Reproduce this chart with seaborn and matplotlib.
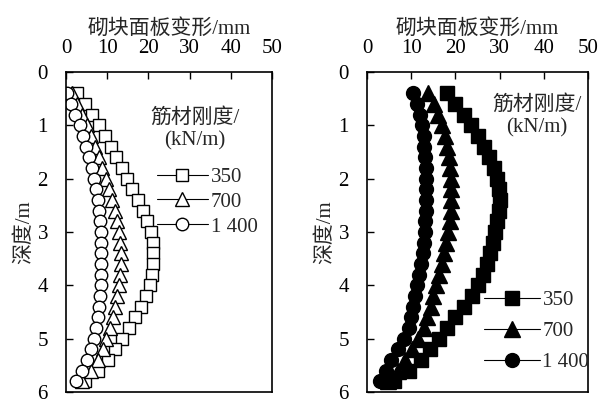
import numpy as np
import pandas as pd
import seaborn as sns
import matplotlib.pyplot as plt

# depth of each measuring point (m)
depth = [0.4, 0.6, 0.8, 1.0, 1.2, 1.4, 1.6, 1.8, 2.0, 2.2, 2.4, 2.6, 2.8, 3.0,
         3.2, 3.4, 3.6, 3.8, 4.0, 4.2, 4.4, 4.6, 4.8, 5.0, 5.2, 5.4, 5.6, 5.8]

stiffness = ["350", "700", "1 400"]

# left panel - block panel deformation (mm)
left_350 = [2.6, 4.6, 6.4, 8.0, 9.5, 10.9, 12.2, 13.5, 14.8, 16.1, 17.4, 18.6, 19.7, 20.6,
            21.0, 21.2, 21.2, 20.9, 20.3, 19.5, 18.1, 16.8, 15.3, 13.7, 12.0, 10.2, 7.8, 4.7]
left_700 = [1.4, 2.6, 3.8, 5.0, 6.0, 7.0, 7.9, 8.8, 9.6, 10.4, 11.1, 11.8, 12.4, 12.8,
            13.1, 13.3, 13.3, 13.1, 12.8, 12.4, 11.9, 11.3, 10.6, 9.8, 9.0, 7.8, 6.0, 3.8]
left_1400 = [0.2, 1.3, 2.3, 3.3, 4.1, 4.9, 5.6, 6.2, 6.8, 7.3, 7.7, 8.0, 8.3, 8.4,
             8.5, 8.5, 8.5, 8.5, 8.4, 8.2, 8.0, 7.7, 7.3, 6.8, 6.1, 5.2, 3.9, 2.4]

# right panel
right_350 = [18.1, 20.0, 21.9, 23.6, 25.1, 26.5, 27.7, 28.7, 29.4, 29.9, 30.0, 29.9, 29.5, 28.9,
             28.4, 27.8, 27.1, 26.2, 25.1, 23.7, 22.0, 20.0, 18.0, 16.2, 14.3, 12.3, 9.5, 6.0]
right_700 = [13.9, 15.1, 16.1, 16.9, 17.6, 18.1, 18.5, 18.8, 18.9, 19.0, 19.0, 18.9, 18.7, 18.4,
             17.9, 17.4, 16.9, 16.2, 15.6, 15.0, 14.4, 13.6, 12.8, 11.6, 10.2, 8.7, 7.0, 4.8]
right_1400 = [10.5, 11.3, 12.0, 12.4, 12.8, 13.0, 13.2, 13.3, 13.4, 13.4, 13.4, 13.3, 13.2, 13.1,
              12.9, 12.6, 12.2, 11.7, 11.3, 10.9, 10.5, 10.0, 9.4, 8.3, 7.0, 5.5, 4.2, 3.0]

xticks = [0, 10, 20, 30, 40, 50]
yticks = [0, 1, 2, 3, 4, 5, 6]

sns.set_style("ticks")
plt.rcParams['font.family'] = ['Liberation Serif', 'Noto Sans CJK SC']
plt.rcParams['font.size'] = 15
plt.rcParams['axes.unicode_minus'] = False

FS = 15


def make_df(series):
    rows = []
    for name, vals in zip(stiffness, series):
        for d, v in zip(depth, vals):
            rows.append({"depth": d, "deform": v, "stiffness": name})
    return pd.DataFrame(rows)


fig = plt.figure(figsize=(6.08, 4.03), dpi=100)
ax1 = fig.add_axes([66 / 608, 1 - 392 / 403, 206 / 608, 320 / 403])
ax2 = fig.add_axes([367 / 608, 1 - 392 / 403, 221 / 608, 320 / 403])

marker_list = ["s", "^", "o"]
panels = [
    (ax1, [left_350, left_700, left_1400], "white", [8.5, 9.5, 9.0]),
    (ax2, [right_350, right_700, right_1400], "black", [10.0, 11.0, 10.0]),
]

for ax, series, face, sizes in panels:
    df = make_df(series)
    for name, mk, ms in zip(stiffness, marker_list, sizes):
        sub = df[df["stiffness"] == name]
        sns.lineplot(data=sub, x="deform", y="depth", ax=ax, orient="y", sort=False,
                     color="black", lw=0.8, marker=mk, markersize=ms,
                     markerfacecolor=face, markeredgecolor="black", markeredgewidth=1.0,
                     label=name, legend=False)

    ax.set_xlim(0, 50)
    ax.set_ylim(6, 0)
    ax.set_xticks(xticks)
    ax.set_yticks(yticks)
    ax.xaxis.tick_top()
    ax.xaxis.set_label_position("top")
    ax.tick_params(direction="in", length=5, width=1, colors="black", labelsize=FS,
                   top=True, bottom=False, left=True, right=False)
    ax.tick_params(axis="x", pad=10)
    ax.tick_params(axis="y", pad=13)
    ax.set_xlabel("砌块面板变形/mm", fontsize=FS, labelpad=4)
    ax.set_ylabel("深度/m", fontsize=FS, labelpad=2)
    for sp in ax.spines.values():
        sp.set_visible(True)
        sp.set_color("black")
        sp.set_linewidth(1.2)

# legends
ax1.text(0.626, 0.82, "筋材刚度/\n(kN/m)", transform=ax1.transAxes, ha="center", va="center",
         fontsize=FS, linespacing=1.25)
ax1.legend(handles=ax1.lines[:3], labels=stiffness, loc="center left",
           bbox_to_anchor=(0.44, 0.594), frameon=False, fontsize=FS, handlelength=2.45,
           handletextpad=0.15, labelspacing=0.25, borderpad=0.0, borderaxespad=0.0)

ax2.text(0.77, 0.8625, "筋材刚度/\n(kN/m)", transform=ax2.transAxes, ha="center", va="center",
         fontsize=FS, linespacing=1.25)
ax2.legend(handles=ax2.lines[:3], labels=stiffness, loc="center left",
           bbox_to_anchor=(0.53, 0.19), frameon=False, fontsize=FS, handlelength=2.7,
           handletextpad=0.1, labelspacing=0.55, borderpad=0.0, borderaxespad=0.0)

fig.savefig("out.png", dpi=100)
